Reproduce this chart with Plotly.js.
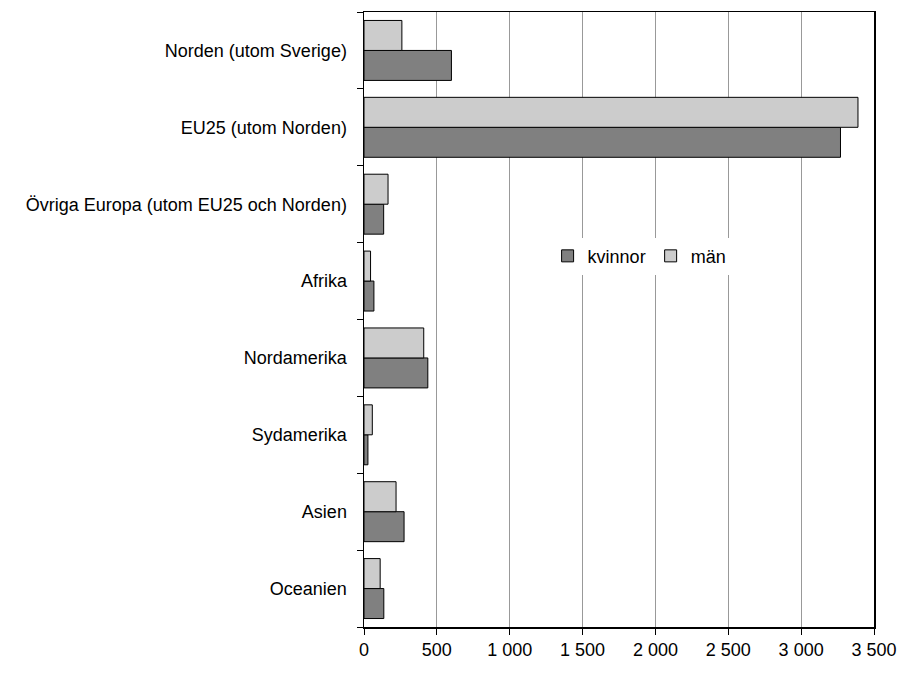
<!DOCTYPE html>
<html>
<head>
<meta charset="utf-8">
<script src="https://cdn.plot.ly/plotly-3.0.1.min.js"></script>
<style>html,body{margin:0;padding:0;background:#fff;}#chart{width:902px;height:674px;}</style>
</head>
<body>
<div id="chart"></div>
<script>
const categories = [
  "Norden (utom Sverige)",
  "EU25 (utom Norden)",
  "Övriga Europa (utom EU25 och Norden)",
  "Afrika",
  "Nordamerika",
  "Sydamerika",
  "Asien",
  "Oceanien"
];
const kvinnor = [600, 3270, 135, 68, 438, 27, 275, 136];
const man = [260, 3390, 165, 45, 410, 57, 220, 111];
const seriesNames = ["kvinnor", "män"];
const xTicks = [0, 500, 1000, 1500, 2000, 2500, 3000, 3500];

const font = {family: "Liberation Sans, Arial, sans-serif", size: 18, color: "#000"};

const traces = [
  {type: "bar", orientation: "h", name: seriesNames[0], y: categories, x: kvinnor,
   marker: {color: "#808080", line: {color: "#000", width: 1}}},
  {type: "bar", orientation: "h", name: seriesNames[1], y: categories, x: man,
   marker: {color: "#cccccc", line: {color: "#000", width: 1}}}
];

const layout = {
  width: 902, height: 674,
  margin: {l: 364, r: 28, t: 12, b: 47},
  paper_bgcolor: "#fff", plot_bgcolor: "#fff",
  font: font,
  barmode: "group",
  bargap: 0.22, bargroupgap: 0,
  separators: ", ",
  xaxis: {
    range: [0, 3500], tickvals: xTicks, tickformat: ",d",
    showgrid: true, gridcolor: "#999", gridwidth: 1,
    showline: true, linecolor: "#000", linewidth: 1.5, mirror: true,
    ticks: "outside", ticklen: 6, tickcolor: "#000",
    ticklabelstandoff: 0,
    zeroline: false, tickfont: font, fixedrange: true
  },
  yaxis: {
    type: "category", categoryorder: "array", categoryarray: categories.slice().reverse(),
    showgrid: false,
    showline: true, linecolor: "#000", linewidth: 1.5, mirror: true,
    ticks: "outside", ticklen: 6, tickcolor: "#000", tickson: "boundaries",
    ticklabelstandoff: 12,
    tickfont: font, fixedrange: true
  },
  showlegend: true,
  legend: {
    orientation: "h", x: 0.36, y: 0.603, xanchor: "left", yanchor: "middle",
    bgcolor: "#fff", borderwidth: 0, font: font, itemwidth: 30,
    traceorder: "normal"
  }
};

Plotly.newPlot("chart", traces, layout, {displayModeBar: false, staticPlot: true});
</script>
</body>
</html>
